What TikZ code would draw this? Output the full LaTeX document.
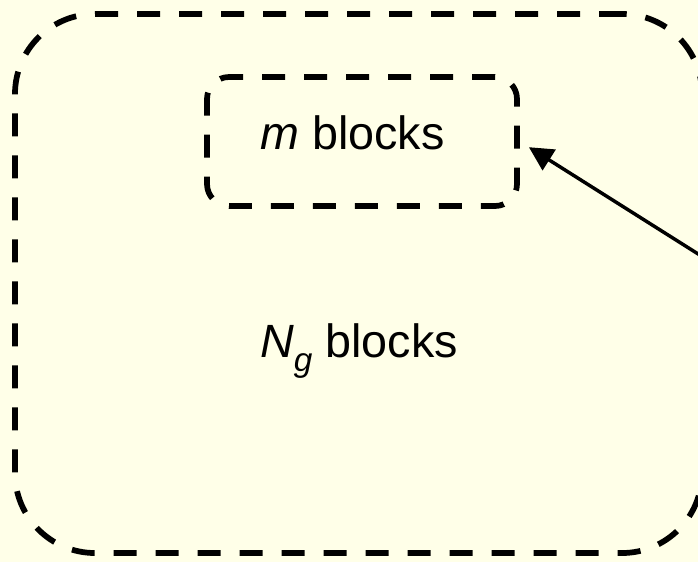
\documentclass[tikz,border=0pt]{standalone}
\usepackage{fontspec}
\setmainfont{Liberation Sans}
\usetikzlibrary{arrows.meta}
\definecolor{bgyellow}{RGB}{255,255,232}

\begin{document}
\begin{tikzpicture}[
        x=0.75pt, y=-0.75pt,
        groupbox/.style={draw=black, line width=4.3pt, dash pattern=on 17.25pt off 14.25pt,
            rectangle, inner sep=0pt},
        blocklabel/.style={font=\fontsize{35}{40}\selectfont, inner sep=0pt, anchor=base}
    ]

    % 背景
    \fill[bgyellow] (0,0) rectangle (698,562);
    \useasboundingbox (0,0) rectangle (698,562);

    % 外框 N_g 个块
    \node[groupbox, rounded corners=60pt, minimum width=515.25pt, minimum height=404.25pt]
        (ngbox) at (358.5,283.5) {};
    \node[blocklabel] (nglabel) at (359,357)
        {\textit{N}\raisebox{-0.3em}{\fontsize{25}{25}\selectfont\textit{g}} blocks};

    % 内框 m 个块
    \node[groupbox, rounded corners=16.5pt, minimum width=232.5pt, minimum height=96.75pt]
        (mbox) at (362,141.5) {};
    \node[blocklabel] (mlabel) at (352.5,149) {\textit{m} blocks};

    % 指向内框的箭头
    \coordinate (src) at (760,293);
    \draw[-{Triangle[length=18pt, width=18pt]}, line width=2.6pt, shorten >=8pt]
        (src) -- (mbox.east);

\end{tikzpicture}
\end{document}
